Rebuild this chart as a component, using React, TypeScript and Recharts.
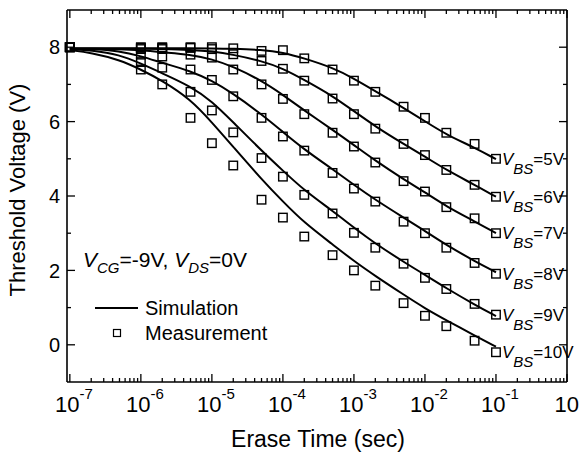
import React from 'react';
import { ComposedChart, Line, Scatter, XAxis, YAxis, Legend, ReferenceDot } from 'recharts';

const FONT = '"Liberation Sans", Arial, Helvetica, sans-serif';

// Measurement erase times (sec)
const measTimes = [1e-7, 1e-6, 2e-6, 5e-6, 1e-5, 2e-5, 5e-5, 1e-4, 2e-4, 5e-4, 1e-3, 2e-3, 5e-3, 1e-2, 2e-2, 5e-2, 1e-1];
const meas5 = [8.0, 8.0, 8.0, 8.0, 8.0, 7.97, 7.9, 7.92, 7.7, 7.4, 7.1, 6.8, 6.4, 6.1, 5.7, 5.4, 5.0];
const meas6 = [8.0, 7.98, 7.98, 7.98, 7.95, 7.81, 7.63, 7.42, 7.1, 6.62, 6.2, 5.81, 5.4, 5.1, 4.7, 4.3, 3.98];
const meas7 = [8.0, 7.95, 7.95, 7.8, 7.72, 7.4, 7.0, 6.61, 6.2, 5.7, 5.33, 4.9, 4.4, 4.12, 3.7, 3.4, 3.0];
const meas8 = [8.0, 7.8, 7.75, 7.4, 7.12, 6.68, 6.1, 5.6, 5.22, 4.62, 4.2, 3.85, 3.31, 3.0, 2.61, 2.2, 1.91];
const meas9 = [8.0, 7.6, 7.45, 6.8, 6.3, 5.71, 5.02, 4.52, 4.03, 3.53, 3.01, 2.61, 2.18, 1.8, 1.5, 1.1, 0.81];
const meas10 = [8.0, 7.4, 7.0, 6.1, 5.42, 4.82, 3.9, 3.42, 2.91, 2.41, 2.0, 1.59, 1.12, 0.78, 0.5, 0.11, -0.2];

// Simulation curves
const simTimes = [1e-7, 2e-7, 5e-7, 1e-6, 2e-6, 5e-6, 1e-5, 2e-5, 5e-5, 1e-4, 2e-4, 5e-4, 1e-3, 2e-3, 5e-3, 1e-2, 2e-2, 5e-2, 1e-1];
const sim5 = [7.97, 7.97, 7.97, 7.97, 7.97, 7.97, 7.97, 7.96, 7.93, 7.86, 7.7, 7.45, 7.16, 6.82, 6.37, 6.01, 5.65, 5.3, 4.99];
const sim6 = [7.96, 7.96, 7.96, 7.96, 7.95, 7.93, 7.89, 7.8, 7.63, 7.43, 7.12, 6.69, 6.28, 5.87, 5.4, 5.06, 4.7, 4.3, 3.98];
const sim7 = [7.96, 7.96, 7.95, 7.92, 7.86, 7.8, 7.68, 7.48, 7.1, 6.72, 6.3, 5.78, 5.37, 4.95, 4.45, 4.1, 3.72, 3.32, 3.0];
const sim8 = [7.95, 7.95, 7.9, 7.76, 7.58, 7.36, 7.1, 6.75, 6.2, 5.72, 5.25, 4.72, 4.3, 3.9, 3.42, 3.06, 2.68, 2.25, 1.95];
const sim9 = [7.95, 7.92, 7.8, 7.56, 7.3, 6.95, 6.55, 5.98, 5.22, 4.68, 4.15, 3.6, 3.15, 2.72, 2.23, 1.88, 1.52, 1.08, 0.77];
const sim10 = [7.92, 7.85, 7.66, 7.4, 7.1, 6.6, 5.98, 5.32, 4.45, 3.85, 3.28, 2.7, 2.25, 1.85, 1.35, 0.98, 0.66, 0.25, -0.05];

const biasLabels = ['5V', '6V', '7V', '8V', '9V', '10V'];
const measSeries = [meas5, meas6, meas7, meas8, meas9, meas10];
const simSeries = [sim5, sim6, sim7, sim8, sim9, sim10];

const xMajorExponents = [-7, -6, -5, -4, -3, -2, -1, 0];
const xMinorMultipliers = [2, 3, 4, 5, 6, 7, 8, 9];
const yTicks = [0, 1, 2, 3, 4, 5, 6, 7, 8];
const yLabelled = [0, 2, 4, 6, 8];

const X_MIN = Math.pow(10, -7.04);
const X_MAX = 1;

const xTicks: number[] = [];
xMajorExponents.forEach((e) => {
  xTicks.push(Math.pow(10, e));
  if (e < 0) xMinorMultipliers.forEach((m) => xTicks.push(m * Math.pow(10, e)));
});

const toPoints = (ts: number[], vs: number[]) => ts.map((t, i) => ({ t, v: vs[i] }));
const measData = measSeries.map((s) => toPoints(measTimes, s));
const simData = simSeries.map((s) => toPoints(simTimes, s));
const lastIdx = measTimes.length - 1;

const isMajor = (v: number) => {
  const e = Math.log10(v);
  return Math.abs(e - Math.round(e)) < 1e-6;
};

const BottomTick = (props: any) => {
  const { x, y, payload } = props;
  const v = payload.value;
  const major = isMajor(v);
  return (
    <g>
      <line x1={x} x2={x} y1={y} y2={y - (major ? 8 : 4)} stroke="#000" strokeWidth={1.3} />
      {major && (
        <text x={x + 4} y={y + 30} textAnchor="middle" fontFamily={FONT} fontSize={22} fill="#000">
          10<tspan dy={-13} fontSize={15}>{Math.round(Math.log10(v))}</tspan>
        </text>
      )}
    </g>
  );
};

const TopTick = (props: any) => {
  const { x, y, payload } = props;
  const major = isMajor(payload.value);
  return <line x1={x} x2={x} y1={y} y2={y + (major ? 8 : 4)} stroke="#000" strokeWidth={1.3} />;
};

const LeftTick = (props: any) => {
  const { x, y, payload } = props;
  const major = yLabelled.includes(payload.value);
  return (
    <g>
      <line x1={x} x2={x + (major ? 8 : 4)} y1={y} y2={y} stroke="#000" strokeWidth={1.3} />
      {major && (
        <text x={x - 7} y={y} dy="0.36em" textAnchor="end" fontFamily={FONT} fontSize={20} fill="#000">
          {payload.value}
        </text>
      )}
    </g>
  );
};

const RightTick = (props: any) => {
  const { x, y, payload } = props;
  const major = yLabelled.includes(payload.value);
  return <line x1={x} x2={x - (major ? 8 : 4)} y1={y} y2={y} stroke="#000" strokeWidth={1.3} />;
};

const Square = (props: any) => {
  const { cx, cy } = props;
  const s = 8.5;
  return <rect x={cx - s / 2} y={cy - s / 2} width={s} height={s} fill="none" stroke="#000" strokeWidth={1.4} />;
};

const BiasLabel = (props: any) => {
  const { viewBox, text } = props;
  const cx = viewBox.x + viewBox.width / 2;
  const cy = viewBox.y + viewBox.height / 2;
  return (
    <text x={cx + 6} y={cy + 6} fontFamily={FONT} fontSize={17} fill="#000">
      <tspan fontStyle="italic">V</tspan>
      <tspan fontStyle="italic" fontSize={15} dy={9}>BS</tspan>
      <tspan dy={-9}>={text}</tspan>
    </text>
  );
};

const XLabel = () => (
  <text x={318} y={447} textAnchor="middle" fontFamily={FONT} fontSize={23} fill="#000">
    Erase Time (sec)
  </text>
);

const YLabel = () => (
  <text x={25} y={190} transform="rotate(-90, 25, 190)" textAnchor="middle" fontFamily={FONT} fontSize={22} fill="#000">
    Threshold Voltage (V)
  </text>
);

const LegendBlock = () => (
  <svg width={579} height={457} style={{ position: 'absolute', left: 0, top: 0, overflow: 'visible' }}>
    <text x={83} y={267} fontFamily={FONT} fontSize={21} fill="#000">
      <tspan fontStyle="italic">V</tspan>
      <tspan fontStyle="italic" fontSize={15} dy={6}>CG</tspan>
      <tspan dy={-6}>=-9V, </tspan>
      <tspan fontStyle="italic">V</tspan>
      <tspan fontStyle="italic" fontSize={15} dy={6}>DS</tspan>
      <tspan dy={-6}>=0V</tspan>
    </text>
    <line x1={95} x2={138} y1={308} y2={308} stroke="#000" strokeWidth={2} />
    <text x={145} y={315} fontFamily={FONT} fontSize={20} fill="#000">Simulation</text>
    <rect x={113.5} y={329.5} width={7} height={7} fill="none" stroke="#000" strokeWidth={1.2} />
    <text x={145} y={340} fontFamily={FONT} fontSize={20} fill="#000">Measurement</text>
  </svg>
);

export default function App() {
  return (
    <div style={{ position: 'absolute', left: 0, top: 0, width: 579, height: 457, background: '#fff' }}>
      <ComposedChart width={579} height={457} margin={{ top: 9, right: 11, bottom: 0, left: 0 }}>
        <XAxis
          type="number"
          dataKey="t"
          scale="log"
          domain={[X_MIN, X_MAX]}
          ticks={xTicks}
          interval={0}
          tickSize={0}
          tickMargin={0}
          height={75}
          tickLine={false}
          axisLine={{ stroke: '#000', strokeWidth: 1.6 }}
          tick={<BottomTick />}
          label={<XLabel />}
        />
        <XAxis
          xAxisId="top"
          orientation="top"
          type="number"
          dataKey="t"
          scale="log"
          domain={[X_MIN, X_MAX]}
          allowDataOverflow
          ticks={xTicks}
          interval={0}
          tickSize={0}
          tickMargin={0}
          height={1}
          tickLine={false}
          axisLine={{ stroke: '#000', strokeWidth: 1.6 }}
          tick={<TopTick />}
        />
        <YAxis
          type="number"
          dataKey="v"
          domain={[-1, 9]}
          ticks={yTicks}
          interval={0}
          tickSize={0}
          tickMargin={0}
          width={67}
          tickLine={false}
          axisLine={{ stroke: '#000', strokeWidth: 1.6 }}
          tick={<LeftTick />}
          label={<YLabel />}
        />
        <YAxis
          yAxisId="right"
          orientation="right"
          type="number"
          dataKey="v"
          domain={[-1, 9]}
          allowDataOverflow
          ticks={yTicks}
          interval={0}
          tickSize={0}
          tickMargin={0}
          width={1}
          tickLine={false}
          axisLine={{ stroke: '#000', strokeWidth: 1.6 }}
          tick={<RightTick />}
        />
        {simData.map((d, i) => (
          <Line
            key={'sim' + i}
            data={d}
            dataKey="v"
            type="basis"
            stroke="#000"
            strokeWidth={2}
            dot={false}
            activeDot={false}
            isAnimationActive={false}
          />
        ))}
        {measData.map((d, i) => (
          <Scatter
            key={'meas' + i}
            data={d}
            dataKey="v"
            shape={<Square />}
            isAnimationActive={false}
          />
        ))}
        {measSeries.map((s, i) => (
          <ReferenceDot
            key={'lab' + i}
            x={measTimes[lastIdx]}
            y={s[lastIdx]}
            r={1}
            fill="none"
            stroke="none"
            ifOverflow="visible"
            label={<BiasLabel text={biasLabels[i]} />}
          />
        ))}
        <Legend layout="horizontal" verticalAlign="middle" align="center" wrapperStyle={{ left: 0, top: 0, width: 579, height: 457 }} content={() => <LegendBlock />} />
      </ComposedChart>
    </div>
  );
}
